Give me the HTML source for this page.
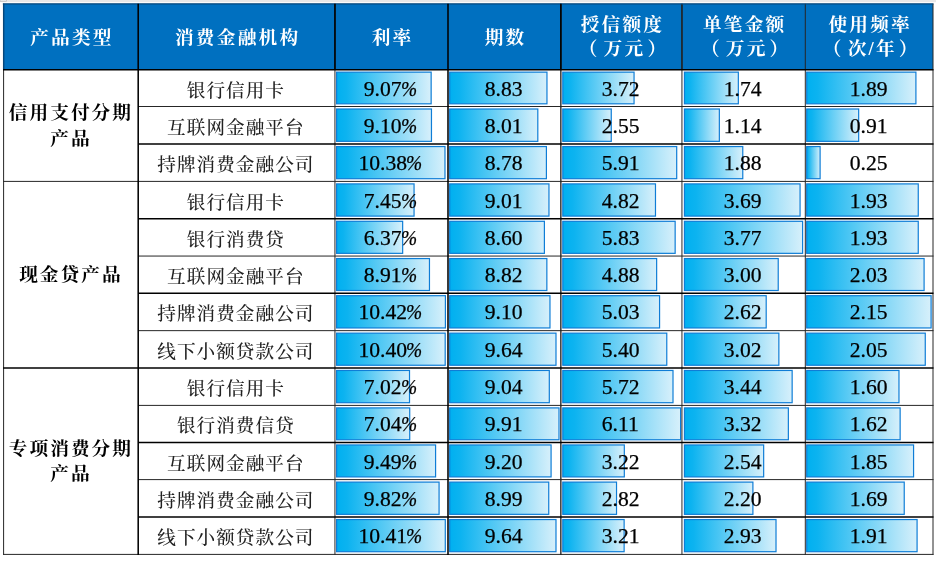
<!DOCTYPE html><html lang="zh"><head><meta charset="utf-8"><title>消费金融产品</title><style>

html,body{margin:0;padding:0;background:#fff;}
body{width:936px;height:564px;position:relative;overflow:hidden;font-family:"Liberation Serif","Noto Serif CJK SC",serif;}
.c{position:absolute;display:flex;align-items:center;justify-content:center;text-align:center;white-space:nowrap;}
.h{color:#fff;font-weight:bold;font-size:18.7px;line-height:23px;letter-spacing:2.2px;}
.h span{position:relative;top:0.5px;left:1.1px;}
.h span.t{top:0.3px;line-height:23.8px;}
.h em{font-style:normal;margin-left:-4px;margin-right:4px;}
.h u{text-decoration:none;margin-left:2px;margin-right:-6px;}
.g{color:#000;font-weight:bold;font-size:18.7px;line-height:25.4px;letter-spacing:2px;}
.g span{position:relative;top:0.3px;left:0px;}
.n{color:#222;font-weight:500;font-size:18.6px;letter-spacing:1.05px;}
.n span{position:relative;top:0.5px;left:-0.7px;}
.v{color:#000;font-size:20.2px;}
.v span{position:relative;top:1.0px;left:-0.9px;display:inline-block;-webkit-text-stroke:0.25px #000;}
.v span.p{left:-0.1px;}
.v b{font-weight:normal;display:inline-block;transform:scaleX(1.07);transform-origin:50% 50%;}
.v i{display:inline-block;margin-left:1.0px;margin-right:-0.6px;transform:scaleX(0.96);transform-origin:0 50%;}

</style></head><body>
<svg width="936" height="564" viewBox="0 0 936 564" style="position:absolute;left:0;top:0">
<defs><linearGradient id="g" x1="0" y1="0" x2="1" y2="0"><stop offset="0" stop-color="#00b0f0"/><stop offset="0.1" stop-color="#0cb3f0"/><stop offset="1" stop-color="#d7f0fb"/></linearGradient></defs>
<rect x="0" y="0" width="936" height="2.2" fill="#e8e8e8"/>
<rect x="0" y="0" width="6.4" height="1.5" fill="#fff" stroke="#b0b0b0" stroke-width="0.6"/>
<rect x="3.6" y="3.8" width="929.4" height="65.85000000000001" fill="#0070c0"/>
<rect x="336.60" y="72.15" width="94.55" height="31.65" fill="url(#g)" stroke="#0f7dd6" stroke-width="1.2"/>
<rect x="449.70" y="72.15" width="97.26" height="31.65" fill="url(#g)" stroke="#0f7dd6" stroke-width="1.2"/>
<rect x="562.80" y="72.15" width="71.25" height="31.65" fill="url(#g)" stroke="#0f7dd6" stroke-width="1.2"/>
<rect x="684.45" y="72.15" width="53.88" height="31.65" fill="url(#g)" stroke="#0f7dd6" stroke-width="1.2"/>
<rect x="806.70" y="72.15" width="109.21" height="31.65" fill="url(#g)" stroke="#0f7dd6" stroke-width="1.2"/>
<rect x="336.60" y="109.00" width="94.87" height="32.35" fill="url(#g)" stroke="#0f7dd6" stroke-width="1.2"/>
<rect x="449.70" y="109.00" width="88.11" height="32.35" fill="url(#g)" stroke="#0f7dd6" stroke-width="1.2"/>
<rect x="562.80" y="109.00" width="48.46" height="32.35" fill="url(#g)" stroke="#0f7dd6" stroke-width="1.2"/>
<rect x="684.45" y="109.00" width="34.89" height="32.35" fill="url(#g)" stroke="#0f7dd6" stroke-width="1.2"/>
<rect x="806.70" y="109.00" width="51.96" height="32.35" fill="url(#g)" stroke="#0f7dd6" stroke-width="1.2"/>
<rect x="336.60" y="146.55" width="108.38" height="32.15" fill="url(#g)" stroke="#0f7dd6" stroke-width="1.2"/>
<rect x="449.70" y="146.55" width="96.70" height="32.15" fill="url(#g)" stroke="#0f7dd6" stroke-width="1.2"/>
<rect x="562.80" y="146.55" width="113.90" height="32.15" fill="url(#g)" stroke="#0f7dd6" stroke-width="1.2"/>
<rect x="684.45" y="146.55" width="58.32" height="32.15" fill="url(#g)" stroke="#0f7dd6" stroke-width="1.2"/>
<rect x="806.70" y="146.55" width="13.40" height="32.15" fill="url(#g)" stroke="#0f7dd6" stroke-width="1.2"/>
<rect x="336.60" y="183.90" width="77.45" height="32.20" fill="url(#g)" stroke="#0f7dd6" stroke-width="1.2"/>
<rect x="449.70" y="183.90" width="99.26" height="32.20" fill="url(#g)" stroke="#0f7dd6" stroke-width="1.2"/>
<rect x="562.80" y="183.90" width="92.68" height="32.20" fill="url(#g)" stroke="#0f7dd6" stroke-width="1.2"/>
<rect x="684.45" y="183.90" width="115.62" height="32.20" fill="url(#g)" stroke="#0f7dd6" stroke-width="1.2"/>
<rect x="806.70" y="183.90" width="111.55" height="32.20" fill="url(#g)" stroke="#0f7dd6" stroke-width="1.2"/>
<rect x="336.60" y="221.30" width="66.05" height="32.05" fill="url(#g)" stroke="#0f7dd6" stroke-width="1.2"/>
<rect x="449.70" y="221.30" width="94.69" height="32.05" fill="url(#g)" stroke="#0f7dd6" stroke-width="1.2"/>
<rect x="562.80" y="221.30" width="112.35" height="32.05" fill="url(#g)" stroke="#0f7dd6" stroke-width="1.2"/>
<rect x="684.45" y="221.30" width="118.15" height="32.05" fill="url(#g)" stroke="#0f7dd6" stroke-width="1.2"/>
<rect x="806.70" y="221.30" width="111.55" height="32.05" fill="url(#g)" stroke="#0f7dd6" stroke-width="1.2"/>
<rect x="336.60" y="258.55" width="92.86" height="31.95" fill="url(#g)" stroke="#0f7dd6" stroke-width="1.2"/>
<rect x="449.70" y="258.55" width="97.15" height="31.95" fill="url(#g)" stroke="#0f7dd6" stroke-width="1.2"/>
<rect x="562.80" y="258.55" width="93.84" height="31.95" fill="url(#g)" stroke="#0f7dd6" stroke-width="1.2"/>
<rect x="684.45" y="258.55" width="93.77" height="31.95" fill="url(#g)" stroke="#0f7dd6" stroke-width="1.2"/>
<rect x="806.70" y="258.55" width="117.39" height="31.95" fill="url(#g)" stroke="#0f7dd6" stroke-width="1.2"/>
<rect x="336.60" y="295.70" width="108.80" height="32.25" fill="url(#g)" stroke="#0f7dd6" stroke-width="1.2"/>
<rect x="449.70" y="295.70" width="100.27" height="32.25" fill="url(#g)" stroke="#0f7dd6" stroke-width="1.2"/>
<rect x="562.80" y="295.70" width="96.77" height="32.25" fill="url(#g)" stroke="#0f7dd6" stroke-width="1.2"/>
<rect x="684.45" y="295.70" width="81.74" height="32.25" fill="url(#g)" stroke="#0f7dd6" stroke-width="1.2"/>
<rect x="806.70" y="295.70" width="124.40" height="32.25" fill="url(#g)" stroke="#0f7dd6" stroke-width="1.2"/>
<rect x="336.60" y="333.15" width="108.59" height="32.10" fill="url(#g)" stroke="#0f7dd6" stroke-width="1.2"/>
<rect x="449.70" y="333.15" width="106.29" height="32.10" fill="url(#g)" stroke="#0f7dd6" stroke-width="1.2"/>
<rect x="562.80" y="333.15" width="103.97" height="32.10" fill="url(#g)" stroke="#0f7dd6" stroke-width="1.2"/>
<rect x="684.45" y="333.15" width="94.41" height="32.10" fill="url(#g)" stroke="#0f7dd6" stroke-width="1.2"/>
<rect x="806.70" y="333.15" width="118.56" height="32.10" fill="url(#g)" stroke="#0f7dd6" stroke-width="1.2"/>
<rect x="336.60" y="370.45" width="72.91" height="32.25" fill="url(#g)" stroke="#0f7dd6" stroke-width="1.2"/>
<rect x="449.70" y="370.45" width="99.60" height="32.25" fill="url(#g)" stroke="#0f7dd6" stroke-width="1.2"/>
<rect x="562.80" y="370.45" width="110.20" height="32.25" fill="url(#g)" stroke="#0f7dd6" stroke-width="1.2"/>
<rect x="684.45" y="370.45" width="107.70" height="32.25" fill="url(#g)" stroke="#0f7dd6" stroke-width="1.2"/>
<rect x="806.70" y="370.45" width="92.27" height="32.25" fill="url(#g)" stroke="#0f7dd6" stroke-width="1.2"/>
<rect x="336.60" y="407.90" width="73.12" height="31.85" fill="url(#g)" stroke="#0f7dd6" stroke-width="1.2"/>
<rect x="449.70" y="407.90" width="109.30" height="31.85" fill="url(#g)" stroke="#0f7dd6" stroke-width="1.2"/>
<rect x="562.80" y="407.90" width="117.80" height="31.85" fill="url(#g)" stroke="#0f7dd6" stroke-width="1.2"/>
<rect x="684.45" y="407.90" width="103.90" height="31.85" fill="url(#g)" stroke="#0f7dd6" stroke-width="1.2"/>
<rect x="806.70" y="407.90" width="93.44" height="31.85" fill="url(#g)" stroke="#0f7dd6" stroke-width="1.2"/>
<rect x="336.60" y="444.95" width="98.98" height="31.95" fill="url(#g)" stroke="#0f7dd6" stroke-width="1.2"/>
<rect x="449.70" y="444.95" width="101.38" height="31.95" fill="url(#g)" stroke="#0f7dd6" stroke-width="1.2"/>
<rect x="562.80" y="444.95" width="61.51" height="31.95" fill="url(#g)" stroke="#0f7dd6" stroke-width="1.2"/>
<rect x="684.45" y="444.95" width="79.21" height="31.95" fill="url(#g)" stroke="#0f7dd6" stroke-width="1.2"/>
<rect x="806.70" y="444.95" width="106.87" height="31.95" fill="url(#g)" stroke="#0f7dd6" stroke-width="1.2"/>
<rect x="336.60" y="482.10" width="102.47" height="32.25" fill="url(#g)" stroke="#0f7dd6" stroke-width="1.2"/>
<rect x="449.70" y="482.10" width="99.04" height="32.25" fill="url(#g)" stroke="#0f7dd6" stroke-width="1.2"/>
<rect x="562.80" y="482.10" width="53.72" height="32.25" fill="url(#g)" stroke="#0f7dd6" stroke-width="1.2"/>
<rect x="684.45" y="482.10" width="68.45" height="32.25" fill="url(#g)" stroke="#0f7dd6" stroke-width="1.2"/>
<rect x="806.70" y="482.10" width="97.53" height="32.25" fill="url(#g)" stroke="#0f7dd6" stroke-width="1.2"/>
<rect x="336.60" y="519.55" width="108.69" height="32.15" fill="url(#g)" stroke="#0f7dd6" stroke-width="1.2"/>
<rect x="449.70" y="519.55" width="106.29" height="32.15" fill="url(#g)" stroke="#0f7dd6" stroke-width="1.2"/>
<rect x="562.80" y="519.55" width="61.32" height="32.15" fill="url(#g)" stroke="#0f7dd6" stroke-width="1.2"/>
<rect x="684.45" y="519.55" width="91.56" height="32.15" fill="url(#g)" stroke="#0f7dd6" stroke-width="1.2"/>
<rect x="806.70" y="519.55" width="110.38" height="32.15" fill="url(#g)" stroke="#0f7dd6" stroke-width="1.2"/>
<line x1="138.20" y1="106.50" x2="933.50" y2="106.50" stroke="#262626" stroke-width="1.0"/>
<line x1="3.10" y1="181.40" x2="933.50" y2="181.40" stroke="#262626" stroke-width="1.0"/>
<line x1="138.20" y1="256.05" x2="933.50" y2="256.05" stroke="#262626" stroke-width="1.0"/>
<line x1="138.20" y1="330.65" x2="933.50" y2="330.65" stroke="#262626" stroke-width="1.0"/>
<line x1="138.20" y1="405.40" x2="933.50" y2="405.40" stroke="#262626" stroke-width="1.0"/>
<line x1="138.20" y1="479.60" x2="933.50" y2="479.60" stroke="#262626" stroke-width="1.0"/>
<line x1="3.10" y1="554.40" x2="933.50" y2="554.40" stroke="#262626" stroke-width="1.0"/>
<line x1="3.60" y1="3.80" x2="3.60" y2="554.90" stroke="#262626" stroke-width="1.0"/>
<line x1="334.95" y1="3.80" x2="334.95" y2="554.90" stroke="#262626" stroke-width="1.0"/>
<line x1="681.95" y1="3.80" x2="681.95" y2="554.90" stroke="#262626" stroke-width="1.0"/>
<line x1="805.30" y1="3.80" x2="805.30" y2="554.90" stroke="#262626" stroke-width="1.0"/>
<line x1="933.00" y1="3.80" x2="933.00" y2="554.90" stroke="#262626" stroke-width="1.0"/>
<line x1="560.85" y1="3.80" x2="560.85" y2="554.90" stroke="#222" stroke-width="1.35"/>
<line x1="681.95" y1="3.80" x2="681.95" y2="69.65" stroke="#222" stroke-width="1.35"/>
<line x1="2.85" y1="3.80" x2="933.50" y2="3.80" stroke="#05477c" stroke-width="1.3"/>
<line x1="3.60" y1="3.80" x2="3.60" y2="69.65" stroke="#05477c" stroke-width="1.3"/>
<line x1="3.10" y1="69.65" x2="933.50" y2="69.65" stroke="#000" stroke-width="1.55"/>
<line x1="138.20" y1="144.05" x2="933.50" y2="144.05" stroke="#000" stroke-width="1.55"/>
<line x1="138.20" y1="218.80" x2="933.50" y2="218.80" stroke="#000" stroke-width="1.55"/>
<line x1="138.20" y1="293.20" x2="933.50" y2="293.20" stroke="#000" stroke-width="1.55"/>
<line x1="3.10" y1="367.95" x2="933.50" y2="367.95" stroke="#000" stroke-width="1.55"/>
<line x1="138.20" y1="442.45" x2="933.50" y2="442.45" stroke="#000" stroke-width="1.55"/>
<line x1="138.20" y1="517.05" x2="933.50" y2="517.05" stroke="#000" stroke-width="1.55"/>
<line x1="138.20" y1="3.80" x2="138.20" y2="554.90" stroke="#000" stroke-width="1.55"/>
<line x1="448.00" y1="3.80" x2="448.00" y2="554.90" stroke="#000" stroke-width="1.55"/>
<line x1="334.95" y1="3.80" x2="334.95" y2="69.65" stroke="#000" stroke-width="1.55"/>
<line x1="560.85" y1="3.80" x2="560.85" y2="69.65" stroke="#000" stroke-width="1.55"/>
</svg>
<div class="c h" style="left:3.6px;top:3.8px;width:134.60px;height:65.85px"><span>产品类型</span></div>
<div class="c h" style="left:138.2px;top:3.8px;width:196.75px;height:65.85px"><span>消费金融机构</span></div>
<div class="c h" style="left:334.95px;top:3.8px;width:113.05px;height:65.85px"><span>利率</span></div>
<div class="c h" style="left:448.0px;top:3.8px;width:112.85px;height:65.85px"><span>期数</span></div>
<div class="c h" style="left:560.85px;top:3.8px;width:121.10px;height:65.85px"><span class="t">授信额度<br><em>（</em>万元<u>）</u></span></div>
<div class="c h" style="left:681.95px;top:3.8px;width:123.35px;height:65.85px"><span class="t">单笔金额<br><em>（</em>万元<u>）</u></span></div>
<div class="c h" style="left:805.3px;top:3.8px;width:127.70px;height:65.85px"><span class="t">使用频率<br><em>（</em>次/年<u>）</u></span></div>
<div class="c g" style="left:3.6px;top:69.65px;width:134.60px;height:111.75px"><span>信用支付分期<br>产品</span></div>
<div class="c g" style="left:3.6px;top:181.40px;width:134.60px;height:186.55px"><span>现金贷产品</span></div>
<div class="c g" style="left:3.6px;top:367.95px;width:134.60px;height:186.45px"><span>专项消费分期<br>产品</span></div>
<div class="c n" style="left:138.2px;top:69.65px;width:196.75px;height:36.85px"><span>银行信用卡</span></div>
<div class="c v" style="left:334.95px;top:69.65px;width:113.05px;height:36.85px"><span class="p"><b>9.07</b><i>%</i></span></div>
<div class="c v" style="left:448.0px;top:69.65px;width:112.85px;height:36.85px"><span><b>8.83</b></span></div>
<div class="c v" style="left:560.85px;top:69.65px;width:121.10px;height:36.85px"><span><b>3.72</b></span></div>
<div class="c v" style="left:681.95px;top:69.65px;width:123.35px;height:36.85px"><span><b>1.74</b></span></div>
<div class="c v" style="left:805.3px;top:69.65px;width:127.70px;height:36.85px"><span><b>1.89</b></span></div>
<div class="c n" style="left:138.2px;top:106.50px;width:196.75px;height:37.55px"><span>互联网金融平台</span></div>
<div class="c v" style="left:334.95px;top:106.50px;width:113.05px;height:37.55px"><span class="p"><b>9.10</b><i>%</i></span></div>
<div class="c v" style="left:448.0px;top:106.50px;width:112.85px;height:37.55px"><span><b>8.01</b></span></div>
<div class="c v" style="left:560.85px;top:106.50px;width:121.10px;height:37.55px"><span><b>2.55</b></span></div>
<div class="c v" style="left:681.95px;top:106.50px;width:123.35px;height:37.55px"><span><b>1.14</b></span></div>
<div class="c v" style="left:805.3px;top:106.50px;width:127.70px;height:37.55px"><span><b>0.91</b></span></div>
<div class="c n" style="left:138.2px;top:144.05px;width:196.75px;height:37.35px"><span>持牌消费金融公司</span></div>
<div class="c v" style="left:334.95px;top:144.05px;width:113.05px;height:37.35px"><span class="p"><b>10.38</b><i>%</i></span></div>
<div class="c v" style="left:448.0px;top:144.05px;width:112.85px;height:37.35px"><span><b>8.78</b></span></div>
<div class="c v" style="left:560.85px;top:144.05px;width:121.10px;height:37.35px"><span><b>5.91</b></span></div>
<div class="c v" style="left:681.95px;top:144.05px;width:123.35px;height:37.35px"><span><b>1.88</b></span></div>
<div class="c v" style="left:805.3px;top:144.05px;width:127.70px;height:37.35px"><span><b>0.25</b></span></div>
<div class="c n" style="left:138.2px;top:181.40px;width:196.75px;height:37.40px"><span>银行信用卡</span></div>
<div class="c v" style="left:334.95px;top:181.40px;width:113.05px;height:37.40px"><span class="p"><b>7.45</b><i>%</i></span></div>
<div class="c v" style="left:448.0px;top:181.40px;width:112.85px;height:37.40px"><span><b>9.01</b></span></div>
<div class="c v" style="left:560.85px;top:181.40px;width:121.10px;height:37.40px"><span><b>4.82</b></span></div>
<div class="c v" style="left:681.95px;top:181.40px;width:123.35px;height:37.40px"><span><b>3.69</b></span></div>
<div class="c v" style="left:805.3px;top:181.40px;width:127.70px;height:37.40px"><span><b>1.93</b></span></div>
<div class="c n" style="left:138.2px;top:218.80px;width:196.75px;height:37.25px"><span>银行消费贷</span></div>
<div class="c v" style="left:334.95px;top:218.80px;width:113.05px;height:37.25px"><span class="p"><b>6.37</b><i>%</i></span></div>
<div class="c v" style="left:448.0px;top:218.80px;width:112.85px;height:37.25px"><span><b>8.60</b></span></div>
<div class="c v" style="left:560.85px;top:218.80px;width:121.10px;height:37.25px"><span><b>5.83</b></span></div>
<div class="c v" style="left:681.95px;top:218.80px;width:123.35px;height:37.25px"><span><b>3.77</b></span></div>
<div class="c v" style="left:805.3px;top:218.80px;width:127.70px;height:37.25px"><span><b>1.93</b></span></div>
<div class="c n" style="left:138.2px;top:256.05px;width:196.75px;height:37.15px"><span>互联网金融平台</span></div>
<div class="c v" style="left:334.95px;top:256.05px;width:113.05px;height:37.15px"><span class="p"><b>8.91</b><i>%</i></span></div>
<div class="c v" style="left:448.0px;top:256.05px;width:112.85px;height:37.15px"><span><b>8.82</b></span></div>
<div class="c v" style="left:560.85px;top:256.05px;width:121.10px;height:37.15px"><span><b>4.88</b></span></div>
<div class="c v" style="left:681.95px;top:256.05px;width:123.35px;height:37.15px"><span><b>3.00</b></span></div>
<div class="c v" style="left:805.3px;top:256.05px;width:127.70px;height:37.15px"><span><b>2.03</b></span></div>
<div class="c n" style="left:138.2px;top:293.20px;width:196.75px;height:37.45px"><span>持牌消费金融公司</span></div>
<div class="c v" style="left:334.95px;top:293.20px;width:113.05px;height:37.45px"><span class="p"><b>10.42</b><i>%</i></span></div>
<div class="c v" style="left:448.0px;top:293.20px;width:112.85px;height:37.45px"><span><b>9.10</b></span></div>
<div class="c v" style="left:560.85px;top:293.20px;width:121.10px;height:37.45px"><span><b>5.03</b></span></div>
<div class="c v" style="left:681.95px;top:293.20px;width:123.35px;height:37.45px"><span><b>2.62</b></span></div>
<div class="c v" style="left:805.3px;top:293.20px;width:127.70px;height:37.45px"><span><b>2.15</b></span></div>
<div class="c n" style="left:138.2px;top:330.65px;width:196.75px;height:37.30px"><span>线下小额贷款公司</span></div>
<div class="c v" style="left:334.95px;top:330.65px;width:113.05px;height:37.30px"><span class="p"><b>10.40</b><i>%</i></span></div>
<div class="c v" style="left:448.0px;top:330.65px;width:112.85px;height:37.30px"><span><b>9.64</b></span></div>
<div class="c v" style="left:560.85px;top:330.65px;width:121.10px;height:37.30px"><span><b>5.40</b></span></div>
<div class="c v" style="left:681.95px;top:330.65px;width:123.35px;height:37.30px"><span><b>3.02</b></span></div>
<div class="c v" style="left:805.3px;top:330.65px;width:127.70px;height:37.30px"><span><b>2.05</b></span></div>
<div class="c n" style="left:138.2px;top:367.95px;width:196.75px;height:37.45px"><span>银行信用卡</span></div>
<div class="c v" style="left:334.95px;top:367.95px;width:113.05px;height:37.45px"><span class="p"><b>7.02</b><i>%</i></span></div>
<div class="c v" style="left:448.0px;top:367.95px;width:112.85px;height:37.45px"><span><b>9.04</b></span></div>
<div class="c v" style="left:560.85px;top:367.95px;width:121.10px;height:37.45px"><span><b>5.72</b></span></div>
<div class="c v" style="left:681.95px;top:367.95px;width:123.35px;height:37.45px"><span><b>3.44</b></span></div>
<div class="c v" style="left:805.3px;top:367.95px;width:127.70px;height:37.45px"><span><b>1.60</b></span></div>
<div class="c n" style="left:138.2px;top:405.40px;width:196.75px;height:37.05px"><span>银行消费信贷</span></div>
<div class="c v" style="left:334.95px;top:405.40px;width:113.05px;height:37.05px"><span class="p"><b>7.04</b><i>%</i></span></div>
<div class="c v" style="left:448.0px;top:405.40px;width:112.85px;height:37.05px"><span><b>9.91</b></span></div>
<div class="c v" style="left:560.85px;top:405.40px;width:121.10px;height:37.05px"><span><b>6.11</b></span></div>
<div class="c v" style="left:681.95px;top:405.40px;width:123.35px;height:37.05px"><span><b>3.32</b></span></div>
<div class="c v" style="left:805.3px;top:405.40px;width:127.70px;height:37.05px"><span><b>1.62</b></span></div>
<div class="c n" style="left:138.2px;top:442.45px;width:196.75px;height:37.15px"><span>互联网金融平台</span></div>
<div class="c v" style="left:334.95px;top:442.45px;width:113.05px;height:37.15px"><span class="p"><b>9.49</b><i>%</i></span></div>
<div class="c v" style="left:448.0px;top:442.45px;width:112.85px;height:37.15px"><span><b>9.20</b></span></div>
<div class="c v" style="left:560.85px;top:442.45px;width:121.10px;height:37.15px"><span><b>3.22</b></span></div>
<div class="c v" style="left:681.95px;top:442.45px;width:123.35px;height:37.15px"><span><b>2.54</b></span></div>
<div class="c v" style="left:805.3px;top:442.45px;width:127.70px;height:37.15px"><span><b>1.85</b></span></div>
<div class="c n" style="left:138.2px;top:479.60px;width:196.75px;height:37.45px"><span>持牌消费金融公司</span></div>
<div class="c v" style="left:334.95px;top:479.60px;width:113.05px;height:37.45px"><span class="p"><b>9.82</b><i>%</i></span></div>
<div class="c v" style="left:448.0px;top:479.60px;width:112.85px;height:37.45px"><span><b>8.99</b></span></div>
<div class="c v" style="left:560.85px;top:479.60px;width:121.10px;height:37.45px"><span><b>2.82</b></span></div>
<div class="c v" style="left:681.95px;top:479.60px;width:123.35px;height:37.45px"><span><b>2.20</b></span></div>
<div class="c v" style="left:805.3px;top:479.60px;width:127.70px;height:37.45px"><span><b>1.69</b></span></div>
<div class="c n" style="left:138.2px;top:517.05px;width:196.75px;height:37.35px"><span>线下小额贷款公司</span></div>
<div class="c v" style="left:334.95px;top:517.05px;width:113.05px;height:37.35px"><span class="p"><b>10.41</b><i>%</i></span></div>
<div class="c v" style="left:448.0px;top:517.05px;width:112.85px;height:37.35px"><span><b>9.64</b></span></div>
<div class="c v" style="left:560.85px;top:517.05px;width:121.10px;height:37.35px"><span><b>3.21</b></span></div>
<div class="c v" style="left:681.95px;top:517.05px;width:123.35px;height:37.35px"><span><b>2.93</b></span></div>
<div class="c v" style="left:805.3px;top:517.05px;width:127.70px;height:37.35px"><span><b>1.91</b></span></div>
</body></html>
